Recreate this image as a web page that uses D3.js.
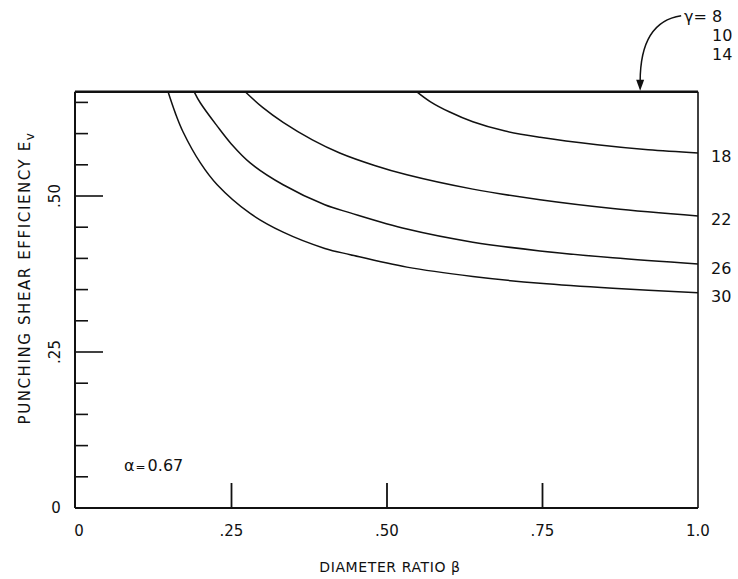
<!DOCTYPE html>
<html>
<head>
<meta charset="utf-8">
<script src="https://cdn.jsdelivr.net/npm/d3@7"></script>
<style>
  body { margin: 0; background: #fff; }
  svg text { font-family: "DejaVu Sans", sans-serif; fill: #111; }
</style>
</head>
<body>
<svg id="chart" width="738" height="579"></svg>
<script>
// efficiency cap (alpha) and curve values
const alphaVal = 0.667;
const alphaLabel = "0.67";
const cappedGammas = ["8", "10", "14"];
const curveGammas = ["18", "22", "26", "30"];

const curve18 = [[0.548, 0.667], [0.57, 0.651], [0.60, 0.635], [0.638, 0.619], [0.69, 0.604], [0.746, 0.594], [0.838, 0.582], [0.92, 0.574], [1.0, 0.569]];
const curve22 = [[0.272, 0.667], [0.30, 0.642], [0.333, 0.618], [0.38, 0.590], [0.424, 0.569], [0.48, 0.549], [0.532, 0.534], [0.638, 0.511], [0.746, 0.494], [0.863, 0.480], [1.0, 0.468]];
const curve26 = [[0.190, 0.667], [0.20, 0.649], [0.227, 0.612], [0.25, 0.583], [0.28, 0.553], [0.333, 0.518], [0.40, 0.486], [0.441, 0.473], [0.532, 0.447], [0.638, 0.426], [0.746, 0.412], [0.863, 0.401], [1.0, 0.391]];
const curve30 = [[0.148, 0.667], [0.16, 0.632], [0.172, 0.603], [0.20, 0.553], [0.227, 0.518], [0.28, 0.472], [0.333, 0.442], [0.40, 0.416], [0.441, 0.406], [0.532, 0.386], [0.638, 0.371], [0.746, 0.360], [0.863, 0.352], [1.0, 0.345]];

const xTicks = [0, 0.25, 0.5, 0.75, 1.0];
const xTickLabels = ["0", ".25", ".50", ".75", "1.0"];
const xMajorTicks = [0.25, 0.5, 0.75];
const yMinorTicks = [0.05, 0.10, 0.15, 0.20, 0.30, 0.35, 0.40, 0.45, 0.55, 0.60, 0.65];
const yMajorTicks = [0.25, 0.50];
const yTickLabels = [".25", ".50"];

const svg = d3.select("#chart");

var x = d3.scaleLinear().domain([0, 1]).range([76, 698]);
var y = d3.scaleLinear().domain([0, 0.5]).range([508, 196]);

// frame: left, bottom, right axis lines
svg.append("line")
    .attr("x1", x(0) - 1).attr("x2", x(0) - 1)
    .attr("y1", y(0)).attr("y2", y(alphaVal))
    .attr("stroke", "#111").attr("stroke-width", 2);
svg.append("line")
    .attr("x1", x(0) - 1).attr("x2", x(1))
    .attr("y1", y(0)).attr("y2", y(0))
    .attr("stroke", "#111").attr("stroke-width", 2);
svg.append("line")
    .attr("x1", x(1)).attr("x2", x(1))
    .attr("y1", y(0)).attr("y2", y(alphaVal))
    .attr("stroke", "#111").attr("stroke-width", 1.6);

// cap line (gamma = 8, 10, 14)
svg.append("line")
    .attr("x1", x(0) - 1).attr("x2", x(1))
    .attr("y1", y(alphaVal)).attr("y2", y(alphaVal))
    .attr("stroke", "#111").attr("stroke-width", 2.6);

// left ticks
svg.selectAll(".yminor")
    .data(yMinorTicks)
    .join("line")
    .attr("class", "yminor")
    .attr("x1", x(0)).attr("x2", x(0) + 12)
    .attr("y1", function (d) { return y(d); })
    .attr("y2", function (d) { return y(d); })
    .attr("stroke", "#111").attr("stroke-width", 1.6);
svg.selectAll(".ymajor")
    .data(yMajorTicks)
    .join("line")
    .attr("class", "ymajor")
    .attr("x1", x(0)).attr("x2", x(0) + 27)
    .attr("y1", function (d) { return y(d); })
    .attr("y2", function (d) { return y(d); })
    .attr("stroke", "#111").attr("stroke-width", 1.6);

// bottom ticks
svg.selectAll(".xmajor")
    .data(xMajorTicks)
    .join("line")
    .attr("class", "xmajor")
    .attr("x1", function (d) { return x(d); })
    .attr("x2", function (d) { return x(d); })
    .attr("y1", y(0)).attr("y2", y(0) - 25)
    .attr("stroke", "#111").attr("stroke-width", 1.8);

// tick labels
svg.selectAll(".xlab")
    .data(xTicks)
    .join("text")
    .attr("class", "xlab")
    .attr("x", function (d) { return x(d) + (d == 0 ? 3 : 0); })
    .attr("y", 536)
    .attr("text-anchor", "middle")
    .attr("font-size", 15)
    .text(function (d, i) { return xTickLabels[i]; });

svg.selectAll(".ylab")
    .data(yMajorTicks)
    .join("text")
    .attr("class", "ylab")
    .attr("transform", function (d) { return "translate(60," + y(d) + ") rotate(-90)"; })
    .attr("text-anchor", "middle")
    .attr("font-size", 15)
    .text(function (d, i) { return yTickLabels[i]; });

svg.append("text")
    .attr("x", 56).attr("y", y(0) + 5)
    .attr("text-anchor", "middle")
    .attr("font-size", 15)
    .text("0");

// axis titles
var yTitle = svg.append("text")
    .attr("transform", "translate(30,278) rotate(-90)")
    .attr("text-anchor", "middle")
    .attr("font-size", 15)
    .attr("letter-spacing", 1.6);
yTitle.append("tspan").text("PUNCHING SHEAR EFFICIENCY E");
yTitle.append("tspan").attr("dy", 4).attr("font-size", 12).text("v");

svg.append("text")
    .attr("x", 390).attr("y", 572)
    .attr("text-anchor", "middle")
    .attr("font-size", 14)
    .attr("letter-spacing", 0.6)
    .text("DIAMETER RATIO β");

// curves
var line = d3.line()
    .x(function (d) { return x(d[0]); })
    .y(function (d) { return y(d[1]); })
    .curve(d3.curveCatmullRom.alpha(0.5));

var curves = [curve18, curve22, curve26, curve30];
svg.selectAll(".curve")
    .data(curves)
    .join("path")
    .attr("class", "curve")
    .attr("d", line)
    .attr("fill", "none")
    .attr("stroke", "#111")
    .attr("stroke-width", 1.5);

// curve labels at the right
svg.selectAll(".glab")
    .data(curves)
    .join("text")
    .attr("class", "glab")
    .attr("x", 711)
    .attr("y", function (d) { return y(d[d.length - 1][1]) + 4; })
    .attr("dominant-baseline", "central")
    .attr("font-size", 16)
    .text(function (d, i) { return curveGammas[i]; });

// gamma annotation for capped curves
svg.append("text")
    .attr("x", 684).attr("y", 22)
    .attr("font-size", 16)
    .text("γ=");
svg.selectAll(".caplab")
    .data(cappedGammas)
    .join("text")
    .attr("class", "caplab")
    .attr("x", 712)
    .attr("y", function (d, i) { return 22 + i * 19; })
    .attr("font-size", 16)
    .text(function (d) { return d; });

var ax = x(0.907), ay = y(alphaVal);
svg.append("path")
    .attr("d", "M" + (ax + 41) + "," + (ay - 76) + " C" + (ax + 14) + "," + (ay - 72) + " " + ax + "," + (ay - 50) + " " + ax + "," + (ay - 10))
    .attr("fill", "none")
    .attr("stroke", "#111")
    .attr("stroke-width", 1.5);
svg.append("path")
    .attr("d", "M" + (ax - 4) + "," + (ay - 12) + " L" + (ax + 4) + "," + (ay - 12) + " L" + ax + "," + (ay - 1) + " Z")
    .attr("fill", "#111");

// alpha note
var aText = svg.append("text")
    .attr("x", 124).attr("y", 471)
    .attr("font-size", 16);
aText.append("tspan").text("α");
aText.append("tspan").attr("font-size", 12).attr("dx", 1).text("=");
aText.append("tspan").attr("dx", 2).text(alphaLabel);
</script>
</body>
</html>
